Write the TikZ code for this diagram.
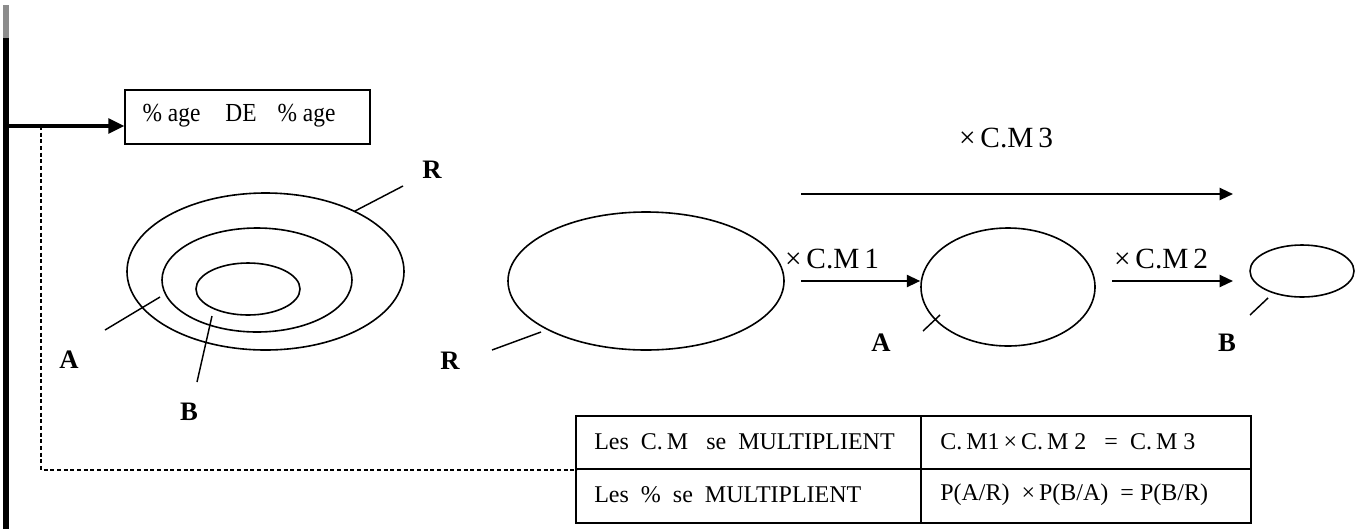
\documentclass[tikz,border=0pt]{standalone}
\usepackage{fontspec}
\setmainfont{Liberation Serif}
\newfontfamily\narrowserif[FakeStretch=0.9]{Liberation Serif}
\usetikzlibrary{arrows.meta,shapes.geometric}
\begin{document}
\begin{tikzpicture}[x=0.75pt,y=-0.75pt,
  set/.style={draw,ellipse,line width=1.2pt,inner sep=0pt},
  lead/.style={line width=1.1pt},
  lbl/.style={font=\fontsize{20}{20}\selectfont\bfseries,inner sep=0pt},
  cmlabel/.style={font=\fontsize{22}{22}\selectfont,inner sep=0pt},
  flow/.style={line width=1.6pt,-{Triangle[length=10pt,width=9pt]}},
  cell/.style={font=\fontsize{18}{18}\selectfont,inner sep=0pt,anchor=west}]
\useasboundingbox (0,0) rectangle (1369,529);

% main vertical bar and branch to the title box
\draw[line width=4.5pt,black!45] (6,5) -- (6,38);
\draw[line width=4.5pt] (6,38) coordinate (bartop) -- (6,529) coordinate (barbot);
\node[draw,line width=0.8pt,minimum width=245*0.75pt,minimum height=54*0.75pt,inner sep=0pt] (title) at (247.5,117) {};
\node[inner sep=0pt,font=\narrowserif\fontsize{19.5}{19.5}\selectfont] (titletext) at (239,116)
  {\% age\hspace{18.75pt}DE\hspace{15.75pt}\% age};
\coordinate (branch) at (8,126);
\draw[line width=2.6pt,-{Triangle[length=12pt,width=11pt]}] (branch) -- (title.west|-branch);

% dashed link down to the table
\coordinate (dtop) at (41,126);
\coordinate (dcorner) at (41,470);

% nested sets R > A > B
\node[set,minimum width=277*0.75pt,minimum height=157*0.75pt] (R1) at (265.5,271.5) {};
\node[set,minimum width=190*0.75pt,minimum height=104*0.75pt] (A1) at (257,280) {};
\node[set,minimum width=104*0.75pt,minimum height=52*0.75pt] (B1) at (248,289) {};
\node[lbl] (R1l) at (432,170) {R};
\node[lbl] (A1l) at (69,360) {A};
\node[lbl] (B1l) at (189,412) {B};
\coordinate (R1s) at (403,186);
\coordinate (A1s) at (105,330);
\coordinate (B1s) at (197,382);
\draw[lead] (R1s) -- (355,211);
\draw[lead] (A1s) -- (160,297);
\draw[lead] (B1s) -- (212,316);

% chain R -> A -> B
\node[set,minimum width=276*0.75pt,minimum height=138*0.75pt] (R2) at (646,281) {};
\node[set,minimum width=174*0.75pt,minimum height=118*0.75pt] (A2) at (1008,287) {};
\node[set,minimum width=104*0.75pt,minimum height=52*0.75pt] (B2) at (1302,271) {};
\node[lbl] (R2l) at (450,361) {R};
\node[lbl] (A2l) at (881,343) {A};
\node[lbl] (B2l) at (1227,343) {B};
\coordinate (R2s) at (492,350);
\coordinate (A2s) at (923,331);
\coordinate (B2s) at (1250,315);
\draw[lead] (R2s) -- (541,332);
\draw[lead] (A2s) -- (940,315);
\draw[lead] (B2s) -- (1268,298);

\coordinate (s1) at (801,281);
\coordinate (s2) at (1112,281);
\coordinate (e2) at (1233,281);
\coordinate (s3) at (801,194);
\coordinate (e3) at (1233,194);
\draw[flow] (s1) -- (A2.west|-s1);
\draw[flow] (s2) -- (e2);
\draw[flow] (s3) -- (e3);
\node[cmlabel] (m1) at (832,259) {×\,C.M\,1};
\node[cmlabel] (m2) at (1161,259) {×\,C.M\,2};
\node[cmlabel] (m3) at (1006,138) {×\,C.M\,3};

% summary table
\draw[line width=0.8pt] (576,416) rectangle (1251,523);
\draw[line width=0.8pt] (921,416) -- (921,523);
\draw[line width=0.8pt] (576,469) -- (1251,469);
\node[cell] (c11) at (594,442) {Les\ \ C.\,M\ \ \ se\ \ MULTIPLIENT};
\node[cell] (c12) at (940,442) {C.\,M1\,×\,C.\,M 2\ \ \ =\ \ C.\,M 3};
\node[cell] (c21) at (594,495) {Les\ \ \%\ \ se\ \ MULTIPLIENT};
\node[cell] (c22) at (940,495) {P(A/R)\ \ ×\,P(B/A)\ \ = P(B/R)};
\coordinate (tblin) at (577,470);
\draw[line width=1.2pt,dash pattern=on 3pt off 2pt] (dtop) -- (dcorner) -- (tblin);
\end{tikzpicture}
\end{document}
